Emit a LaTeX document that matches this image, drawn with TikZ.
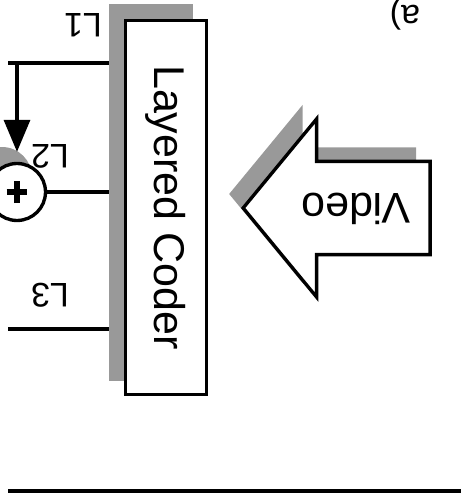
\documentclass[tikz,border=0pt]{standalone}
\usepackage{fontspec}
\setmainfont{Liberation Sans}
\usetikzlibrary{positioning, arrows.meta, calc, shapes.arrows}
\tikzset{
  coder box/.style={
    rectangle, draw, line width=1.9pt, fill=white,
    minimum width=1.62cm, minimum height=7.48cm, inner sep=0pt
  },
  grey back/.style={
    rectangle, draw=none, fill=black!40,
    minimum width=1.68cm, minimum height=7.54cm, inner sep=0pt
  },
  big arrow/.style={
    single arrow, draw, line width=1.9pt, fill=white,
    minimum width=3.5cm, minimum height=3.74cm, inner sep=0pt,
    text height=1.2cm, text depth=0.6cm,
    single arrow head extend=0.85cm, single arrow tip angle=101,
    font=\fontsize{24.5}{28}\selectfont
  },
  grey arrow/.style={big arrow, draw=none, fill=black!40},
  adder/.style={
    circle, draw, line width=1.9pt, fill=white, minimum size=1.14cm, inner sep=0pt,
    path picture={
      \draw[line width=0.13cm] ([xshift=-0.21cm]path picture bounding box.center) -- ++(0.42cm,0);
      \draw[line width=0.13cm] ([yshift=-0.22cm]path picture bounding box.center) -- ++(0,0.44cm);
    }
  },
  grey adder/.style={circle, draw=none, fill=black!40, minimum size=1.2cm, inner sep=0pt},
  layer label/.style={rotate=180, inner sep=0pt, font=\fontsize{19.4}{22}\selectfont},
  wire/.style={line width=1.9pt},
}

\begin{document}
\begin{tikzpicture}[x=0.02cm, y=-0.02cm]
  \useasboundingbox (0,0) rectangle (461,497);

  % coder with its grey backing
  \node[grey back] (CODER BACK) at (151,192.5) {};
  \node[coder box, label={[rotate=-90, font=\fontsize{24.5}{28}\selectfont]center:Layered Coder}] (CODER) at (166,207.5) {};

  % video input
  \node[grey arrow, rotate=180, anchor=tip] (VIDEO BACK) at (227,194) {\phantom{Video}};
  \node[big arrow, rotate=180, anchor=tip] (VIDEO) at (241,208) {Video};

  % adder
  \node[grey adder] (ADDER BACK) at (2,177) {};
  \node[adder] (ADDER) at (17,192) {};

  \coordinate (L1 start) at (8,63);
  \coordinate (L3 start) at (8,329);
  \coordinate (BASE left) at (8,491);
  \coordinate (BASE right) at (461,491);

  \draw[wire] (L1 start) -- (L1 start -| CODER BACK.west);
  \draw[wire, -{Triangle[width=0.52cm, length=0.64cm]}, shorten >=0.2cm] (L1 start -| ADDER) -- (ADDER.north);
  \draw[wire] (ADDER.east) -- (ADDER -| CODER BACK.west);
  \draw[wire] (L3 start) -- (L3 start -| CODER BACK.west);
  \draw[line width=2.4pt] (BASE left) -- (BASE right);

  \node[layer label] (L1) at (83,25) {L1};
  \node[layer label] (L2) at (50,156) {L2};
  \node[layer label] (L3) at (50,295) {L3};
  \node[layer label] (PART) at (405,14) {a)};
\end{tikzpicture}
\end{document}
